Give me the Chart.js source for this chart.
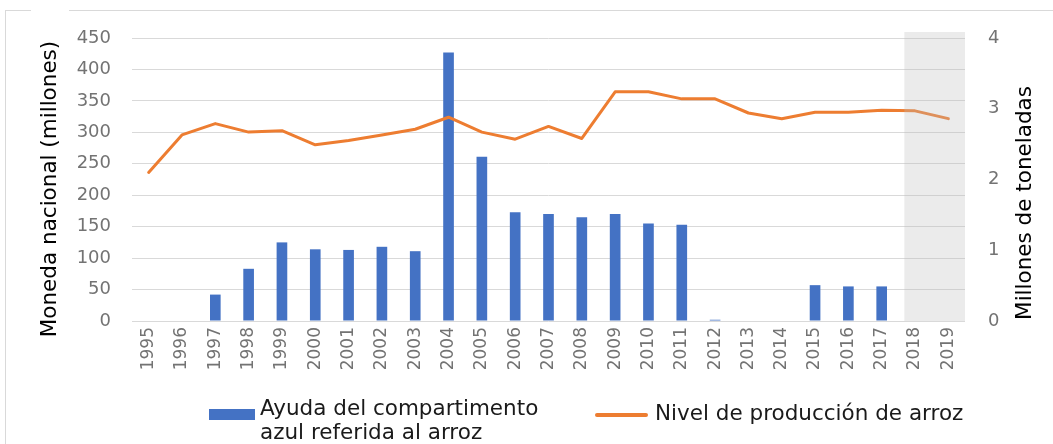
<!DOCTYPE html>
<html lang="es">
<head>
<meta charset="utf-8">
<title>Ayuda del compartimento azul - arroz</title>
<script src="https://cdn.jsdelivr.net/npm/chart.js@4.4.1/dist/chart.umd.min.js"></script>
<style>
    html, body { margin: 0; padding: 0; background: #ffffff; }
    #wrap { position: relative; width: 1053px; height: 444px; overflow: hidden; font-family: "DejaVu Sans", sans-serif; }
    #frame { position: absolute; left: 5px; top: 10px; right: 0; bottom: 0; border-top: 1px solid #d9d9d9; border-left: 1px solid #d9d9d9; }
    #gap { position: absolute; left: 31px; top: 8px; width: 38px; height: 5px; background: #ffffff; }
    canvas { position: absolute; left: 0; top: 0; }
    .legend-text { position: absolute; font-size: 21.5px; line-height: 24px; color: #1a1a1a; white-space: nowrap; }
    .swatch-bar { position: absolute; left: 209px; top: 409px; width: 46px; height: 11px; background: #4472c4; }
    .swatch-line { position: absolute; left: 595px; top: 413px; width: 53px; height: 4px; border-radius: 2px; background: #ed7d31; }
</style>
</head>
<body>
<div id="wrap">
    <div id="frame"></div>
    <div id="gap"></div>
    <canvas id="riceChart" width="1053" height="444"></canvas>
    <div class="swatch-bar"></div>
    <div class="legend-text" style="left:260px; top:396px;">Ayuda del compartimento<br>azul referida al arroz</div>
    <div class="swatch-line"></div>
    <div class="legend-text" style="left:655px; top:401px;">Nivel de producción de arroz</div>
</div>
<script>
// years on the x axis
const years = ['1995', '1996', '1997', '1998', '1999', '2000', '2001', '2002', '2003', '2004',
               '2005', '2006', '2007', '2008', '2009', '2010', '2011', '2012', '2013', '2014',
               '2015', '2016', '2017', '2018', '2019'];

// blue box support for rice, national currency (millions)
const ayudaAzul = [0, 0, 42, 83, 125, 114, 113, 118, 111, 427,
                   261, 173, 170, 165, 170, 155, 153, 2, 0, 0,
                   57, 55, 55, null, null];

// rice production level, million tonnes
const produccion = [2.10, 2.63, 2.79, 2.67, 2.69, 2.49, 2.55, 2.63, 2.71, 2.88,
                    2.67, 2.57, 2.75, 2.58, 3.24, 3.24, 3.14, 3.14, 2.94, 2.86,
                    2.95, 2.95, 2.98, 2.97, 2.86];

const leftTicks = [0, 50, 100, 150, 200, 250, 300, 350, 400, 450];
const rightTicks = [0, 1, 2, 3, 4];
const shadedYears = ['2018', '2019'];

const leftTitle = 'Moneda nacional (millones)';
const rightTitle = 'Millones de toneladas';

document.addEventListener('DOMContentLoaded', function() {
    const tickGray = '#737373';
    const gridGray = '#d9d9d9';

    // grey band over the last years, drawn on top of the series
    const shadePlugin = {
        id: 'shade',
        afterDatasetsDraw(chart) {
            const x = chart.scales.x;
            const area = chart.chartArea;
            const first = years.indexOf(shadedYears[0]);
            const step = x.getPixelForValue(1) - x.getPixelForValue(0);
            const left = x.getPixelForValue(first) - step * 0.32;
            const ctx = chart.ctx;
            ctx.save();
            ctx.fillStyle = 'rgba(190, 190, 190, 0.3)';
            ctx.fillRect(left, area.top - 6, area.right - left, area.bottom - area.top + 6);
            ctx.restore();
        }
    };

    // both axis titles read bottom to top
    const titlePlugin = {
        id: 'axisTitles',
        afterDraw(chart) {
            const ctx = chart.ctx;
            ctx.save();
            ctx.fillStyle = '#000000';
            ctx.font = '21.5px "DejaVu Sans"';
            ctx.textAlign = 'center';
            ctx.textBaseline = 'alphabetic';
            [[leftTitle, 56, 189], [rightTitle, 1031, 203]].forEach(function(t) {
                ctx.save();
                ctx.translate(t[1], t[2]);
                ctx.rotate(-Math.PI / 2);
                ctx.fillText(t[0], 0, 0);
                ctx.restore();
            });
            ctx.restore();
        }
    };

    const ctx = document.getElementById('riceChart').getContext('2d');
    new Chart(ctx, {
        data: {
            labels: years,
            datasets: [{
                type: 'line',
                label: 'Nivel de producción de arroz',
                data: produccion,
                yAxisID: 'y2',
                borderColor: '#ed7d31',
                borderWidth: 3,
                pointRadius: 0,
                tension: 0,
                borderJoinStyle: 'round',
                borderCapStyle: 'round',
                order: 0
            }, {
                type: 'bar',
                label: 'Ayuda del compartimento azul referida al arroz',
                data: ayudaAzul,
                yAxisID: 'y',
                backgroundColor: '#4472c4',
                categoryPercentage: 1,
                barPercentage: 0.32,
                order: 1
            }]
        },
        options: {
            responsive: false,
            animation: false,
            layout: { padding: { top: 38, left: 0, right: 0, bottom: 0 } },
            plugins: {
                legend: { display: false },
                tooltip: { enabled: false }
            },
            scales: {
                x: {
                    grid: { display: false, drawTicks: false },
                    border: { display: false },
                    ticks: {
                        color: tickGray,
                        font: { family: 'DejaVu Sans', size: 17 },
                        minRotation: 90,
                        maxRotation: 90,
                        autoSkip: false,
                        padding: 6
                    },
                    afterFit(scale) { scale.height = 123; }
                },
                y: {
                    position: 'left',
                    min: 0,
                    max: 450,
                    afterBuildTicks(scale) { scale.ticks = leftTicks.map(v => ({ value: v })); },
                    grid: { color: gridGray, drawTicks: false },
                    border: { display: false },
                    ticks: {
                        color: tickGray,
                        font: { family: 'DejaVu Sans', size: 18 },
                        padding: 21
                    },
                    afterFit(scale) { scale.width = 132; }
                },
                y2: {
                    position: 'right',
                    min: 0,
                    max: 4,
                    afterBuildTicks(scale) { scale.ticks = rightTicks.map(v => ({ value: v })); },
                    grid: { display: false, drawTicks: false },
                    border: { display: false },
                    ticks: {
                        color: tickGray,
                        font: { family: 'DejaVu Sans', size: 18 },
                        padding: 23
                    },
                    afterFit(scale) { scale.width = 88; }
                }
            }
        },
        plugins: [shadePlugin, titlePlugin]
    });
});
</script>
</body>
</html>
